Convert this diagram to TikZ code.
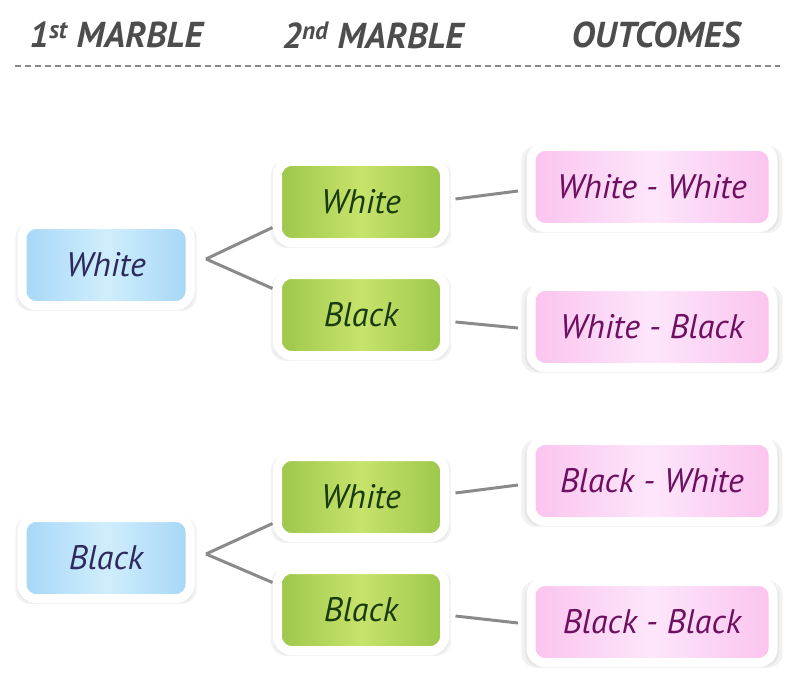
\documentclass[tikz,border=0pt]{standalone}
\usepackage{fontspec}
\setmainfont{PT Sans}
\usetikzlibrary{shadows}
\definecolor{headgray}{HTML}{4D4D4D}
\definecolor{linegray}{HTML}{8A8A8A}
\definecolor{blueedge}{HTML}{A6D6F7}
\definecolor{bluemid}{HTML}{CFEEFC}
\definecolor{greenedge}{HTML}{9CC64A}
\definecolor{greenmid}{HTML}{C7E36B}
\definecolor{pinkedge}{HTML}{FBC3EE}
\definecolor{pinkmid}{HTML}{FDE6FB}
\definecolor{bluetext}{HTML}{2E2A5E}
\definecolor{greentext}{HTML}{1A3A10}
\definecolor{pinktext}{HTML}{6E1060}
\begin{document}
\begin{tikzpicture}[x=1pt, y=-1pt,
  box/.style={draw=white, line width=9pt, rounded corners=14pt, outer sep=0pt,
    minimum height=81pt, font=\fontsize{34}{40}\selectfont\itshape,
    general shadow={fill=black, opacity=0.05, shadow scale=1.08, shadow yshift=-2pt},
    general shadow={fill=black, opacity=0.05, shadow scale=1.05, shadow yshift=-2pt}},
  first/.style={box, minimum width=168pt, left color=blueedge, right color=blueedge, middle color=bluemid, text=bluetext},
  second/.style={box, minimum width=167pt, left color=greenedge, right color=greenedge, middle color=greenmid, text=greentext},
  outcome/.style={box, minimum width=242pt, left color=pinkedge, right color=pinkedge, middle color=pinkmid, text=pinktext},
  head/.style={font=\fontsize{36}{40}\selectfont\bfseries\itshape, text=headgray},
  link/.style={draw=linegray, line width=3pt}]
\useasboundingbox (0,0) rectangle (800,687);
% headings
\node[head] (h1) at (116,35) {1\textsuperscript{st} MARBLE};
\node[head] (h2) at (373,35) {2\textsuperscript{nd} MARBLE};
\node[head] (h3) at (656,35) {OUTCOMES};
\coordinate (dl) at (15,66);
\coordinate (dr) at (780,66);
\draw[draw=linegray, line width=2pt, dash pattern=on 6pt off 4pt] (dl) -- (dr);

% first marble: white
\node[first] (w1) at (106,265) {White};
\node[second] (ww) at (361,202) {White};
\node[second] (wb) at (361,315) {Black};
\node[outcome] (oww) at (652,187) {White - White};
\node[outcome] (owb) at (652,327) {White - Black};
\draw[link] ([xshift=16pt,yshift=6pt]w1.east) -- ([xshift=-5pt,yshift=15pt]ww.south west);
\draw[link] ([xshift=16pt,yshift=6pt]w1.east) -- ([xshift=-5pt,yshift=-14pt]wb.north west);
\draw[link] ([xshift=11pt,yshift=3pt]ww.east) -- ([xshift=-13pt,yshift=-4pt]oww.west);
\draw[link] ([xshift=11pt,yshift=-7pt]wb.east) -- ([xshift=-13pt,yshift=-1pt]owb.west);

% first marble: black
\node[first] (b1) at (106,558) {Black};
\node[second] (bw) at (361,497) {White};
\node[second] (bb) at (361,610) {Black};
\node[outcome] (obw) at (652,481) {Black - White};
\node[outcome] (obb) at (652,622) {Black - Black};
\draw[link] ([xshift=16pt,yshift=4pt]b1.east) -- ([xshift=-5pt,yshift=14pt]bw.south west);
\draw[link] ([xshift=16pt,yshift=4pt]b1.east) -- ([xshift=-5pt,yshift=-13pt]bb.north west);
\draw[link] ([xshift=11pt,yshift=4pt]bw.east) -- ([xshift=-13pt,yshift=-4pt]obw.west);
\draw[link] ([xshift=11pt,yshift=-6pt]bb.east) -- ([xshift=-13pt,yshift=-1pt]obb.west);

\end{tikzpicture}
\end{document}
